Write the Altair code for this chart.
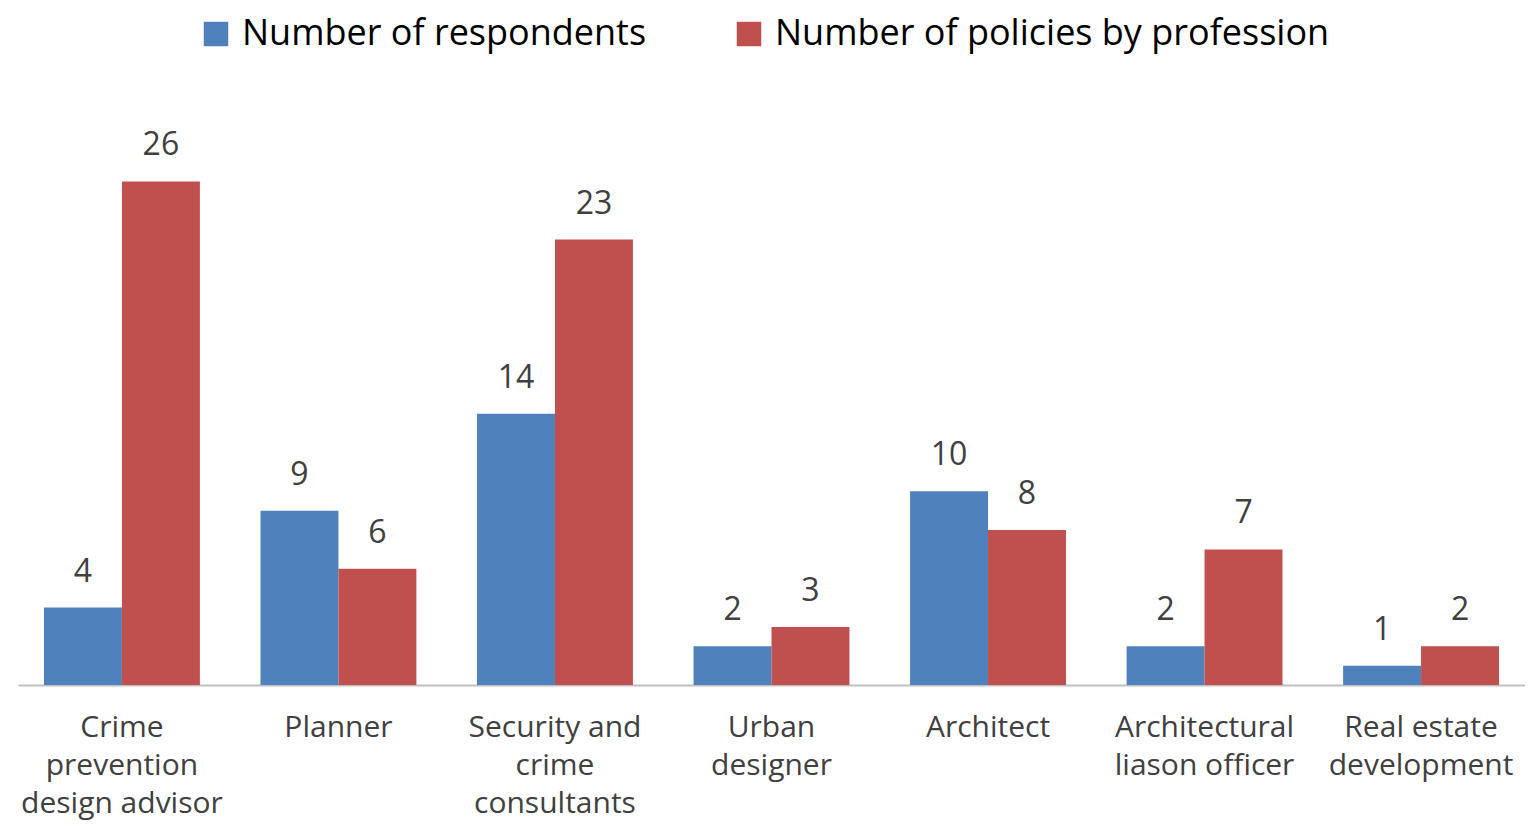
import altair as alt
import pandas as pd

categories = [
    "Crime prevention design advisor",
    "Planner",
    "Security and crime consultants",
    "Urban designer",
    "Architect",
    "Architectural liason officer",
    "Real estate development",
]
label_lines = [
    ["Crime", "prevention", "design advisor"],
    ["Planner"],
    ["Security and", "crime", "consultants"],
    ["Urban", "designer"],
    ["Architect"],
    ["Architectural", "liason officer"],
    ["Real estate", "development"],
]
series = ["Number of respondents", "Number of policies by profession"]
respondents = [4, 9, 14, 2, 10, 2, 1]
policies = [26, 6, 23, 3, 8, 7, 2]
colors = ["#4F81BD", "#C0504D"]

rows = []
for i, c in enumerate(categories):
    rows.append({"cat": c, "series": series[0], "value": respondents[i]})
    rows.append({"cat": c, "series": series[1], "value": policies[i]})
df = pd.DataFrame(rows)

label_expr = "{" + ", ".join(
    f'"{c}": {label_lines[i]!r}'.replace("'", '"') for i, c in enumerate(categories)
) + "}[datum.value]"

FONT = "Open Sans"

x = alt.X(
    "cat:N",
    sort=categories,
    scale=alt.Scale(paddingInner=0.28, paddingOuter=0.12),
    axis=alt.Axis(
        title=None,
        labelAngle=0,
        ticks=False,
        domainColor="#BFBFBF",
        domainWidth=2,
        labelFontSize=30,
        labelFont=FONT,
        labelColor="#404040",
        labelPadding=27,
        labelLineHeight=38,
        labelLimit=400,
        labelExpr=label_expr,
    ),
)
y = alt.Y(
    "value:Q",
    scale=alt.Scale(domain=[0, 30], nice=False),
    axis=None,
)

base = alt.Chart(df).encode(
    x=x,
    xOffset=alt.XOffset("series:N", sort=series, scale=alt.Scale(paddingInner=0)),
    y=y,
)

bars = base.mark_bar().encode(
    color=alt.Color(
        "series:N",
        sort=series,
        scale=alt.Scale(domain=series, range=colors),
        legend=alt.Legend(
            title=None,
            orient="none",
            direction="horizontal",
            legendX=180,
            legendY=-88,
            symbolType="square",
            symbolSize=600,
            symbolStrokeWidth=0,
            labelFontSize=36,
            labelFont=FONT,
            labelColor="#000000",
            labelOffset=8,
            columnPadding=84,
            labelLimit=900,
        ),
    )
)

labels = base.mark_text(
    baseline="alphabetic", dy=-26, fontSize=32, font=FONT, color="#404040"
).encode(text="value:Q")

chart = (
    (bars + labels)
    .properties(
        width=1507,
        height=581,
        padding={"left": 10, "top": 96, "right": 0, "bottom": 138},
        autosize=alt.AutoSizeParams(type="none"),
    )
    .configure(background="white")
    .configure_view(strokeWidth=0, stroke="transparent")
)

chart.save("out.html", embed_options={"renderer": "svg", "actions": False})
